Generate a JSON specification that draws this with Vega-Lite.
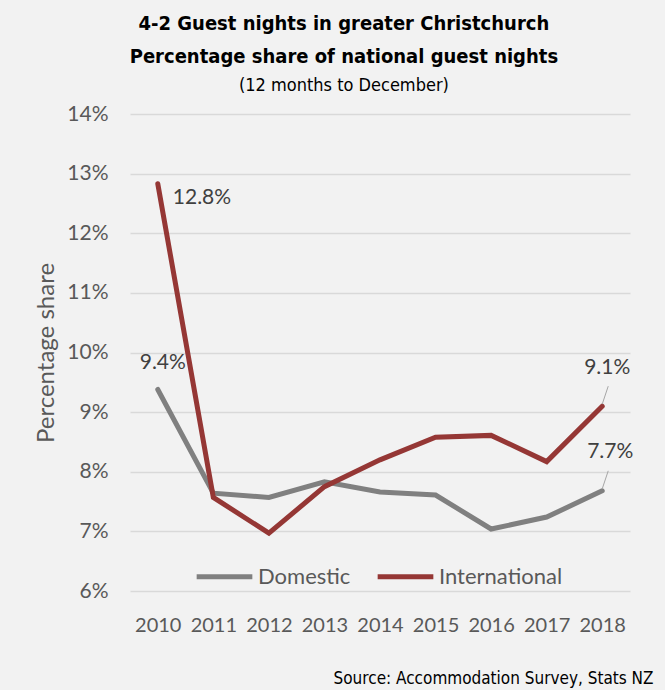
{
  "$schema": "https://vega.github.io/schema/vega-lite/v6.json",
  "width": 500,
  "height": 477,
  "autosize": {"type": "none"},
  "padding": {"left": 130, "top": 114, "right": 35, "bottom": 99},
  "background": "#f2f2f2",
  "title": {
    "text": ["4-2 Guest nights in greater Christchurch", "Percentage share of national guest nights"],
    "subtitle": "(12 months to December)",
    "anchor": "middle",
    "frame": "bounds",
    "font": "DejaVu Sans Condensed, sans-serif",
    "fontSize": 20,
    "fontWeight": "bold",
    "color": "#000000",
    "lineHeight": 33,
    "subtitleFont": "DejaVu Sans Condensed, sans-serif",
    "subtitleFontSize": 18,
    "subtitleColor": "#000000",
    "subtitlePadding": 10,
    "offset": 8
  },
  "config": {
    "view": {"stroke": null},
    "font": "Lato"
  },
  "data": {
    "values": [
      {"year": 2010, "series": "Domestic", "value": 9.38},
      {"year": 2011, "series": "Domestic", "value": 7.64},
      {"year": 2012, "series": "Domestic", "value": 7.57},
      {"year": 2013, "series": "Domestic", "value": 7.83},
      {"year": 2014, "series": "Domestic", "value": 7.66},
      {"year": 2015, "series": "Domestic", "value": 7.61},
      {"year": 2016, "series": "Domestic", "value": 7.04},
      {"year": 2017, "series": "Domestic", "value": 7.24},
      {"year": 2018, "series": "Domestic", "value": 7.68},
      {"year": 2010, "series": "International", "value": 12.83},
      {"year": 2011, "series": "International", "value": 7.57},
      {"year": 2012, "series": "International", "value": 6.97},
      {"year": 2013, "series": "International", "value": 7.75},
      {"year": 2014, "series": "International", "value": 8.2},
      {"year": 2015, "series": "International", "value": 8.58},
      {"year": 2016, "series": "International", "value": 8.61},
      {"year": 2017, "series": "International", "value": 8.17},
      {"year": 2018, "series": "International", "value": 9.1}
    ]
  },
  "layer": [
    {
      "mark": {"type": "line", "strokeWidth": 5, "strokeCap": "round", "strokeJoin": "miter"},
      "encoding": {
        "x": {
          "field": "year", "type": "quantitative",
          "scale": {"domain": [2009.5, 2018.5], "nice": false, "zero": false},
          "axis": {
            "values": [2010, 2011, 2012, 2013, 2014, 2015, 2016, 2017, 2018],
            "format": "d",
            "grid": false, "domain": false, "ticks": false,
            "labelFont": "Lato", "labelFontSize": 20, "labelColor": "#595959",
            "labelPadding": 24,
            "title": "Source: Accommodation Survey, Stats NZ",
            "titleFont": "DejaVu Sans Condensed, sans-serif",
            "titleFontSize": 17, "titleFontWeight": "normal", "titleColor": "#000000",
            "titleAnchor": "end", "titleAlign": "right",
            "titleX": 523, "titleY": 87, "titleBaseline": "middle"
          }
        },
        "y": {
          "field": "value", "type": "quantitative",
          "scale": {"domain": [6, 14], "nice": false, "zero": false},
          "axis": {
            "values": [6, 7, 8, 9, 10, 11, 12, 13, 14],
            "labelExpr": "datum.value + '%'",
            "grid": true, "gridColor": "#d9d9d9", "gridWidth": 1.5,
            "domain": false, "ticks": false,
            "labelFont": "Lato", "labelFontSize": 21, "labelColor": "#595959",
            "labelPadding": 22,
            "title": "Percentage share",
            "titleFont": "Lato", "titleFontSize": 24, "titleFontWeight": "normal",
            "titleColor": "#595959", "titlePadding": 8
          }
        },
        "color": {
          "field": "series", "type": "nominal",
          "scale": {"domain": ["Domestic", "International"], "range": ["#808080", "#953735"]},
          "legend": {
            "title": null,
            "orient": "none",
            "direction": "horizontal",
            "legendX": 64,
            "legendY": 432,
            "symbolType": "stroke",
            "symbolSize": 3100,
            "symbolStrokeWidth": 5,
            "labelFont": "Lato",
            "labelFontSize": 22,
            "labelColor": "#595959",
            "labelOffset": 3,
            "columnPadding": 16
          }
        }
      }
    },
    {
      "transform": [{"filter": "datum.year == 2018"}],
      "mark": {"type": "rule", "color": "#a6a6a6", "strokeWidth": 1, "x2Offset": 6, "y2Offset": -20, "yOffset": -2},
      "encoding": {
        "x": {"field": "year", "type": "quantitative"},
        "x2": {"field": "year"},
        "y": {"field": "value", "type": "quantitative"},
        "y2": {"field": "value"}
      }
    },
    {
      "transform": [{"filter": "datum.year == 2010 && datum.series == 'International'"}, {"calculate": "format(datum.value, '.1f') + '%'", "as": "lbl"}],
      "mark": {"type": "text", "align": "left", "baseline": "middle", "dx": 15, "dy": 14, "fontSize": 21, "color": "#404040", "font": "Lato"},
      "encoding": {
        "x": {"field": "year", "type": "quantitative"},
        "y": {"field": "value", "type": "quantitative"},
        "text": {"field": "lbl"}
      }
    },
    {
      "transform": [{"filter": "datum.year == 2010 && datum.series == 'Domestic'"}, {"calculate": "format(datum.value, '.1f') + '%'", "as": "lbl"}],
      "mark": {"type": "text", "align": "center", "baseline": "middle", "dx": 5, "dy": -26, "fontSize": 21, "color": "#404040", "font": "Lato"},
      "encoding": {
        "x": {"field": "year", "type": "quantitative"},
        "y": {"field": "value", "type": "quantitative"},
        "text": {"field": "lbl"}
      }
    },
    {
      "transform": [{"filter": "datum.year == 2018 && datum.series == 'International'"}, {"calculate": "format(datum.value, '.1f') + '%'", "as": "lbl"}],
      "mark": {"type": "text", "align": "center", "baseline": "middle", "dx": 5, "dy": -38, "fontSize": 21, "color": "#404040", "font": "Lato"},
      "encoding": {
        "x": {"field": "year", "type": "quantitative"},
        "y": {"field": "value", "type": "quantitative"},
        "text": {"field": "lbl"}
      }
    },
    {
      "transform": [{"filter": "datum.year == 2018 && datum.series == 'Domestic'"}, {"calculate": "format(datum.value, '.1f') + '%'", "as": "lbl"}],
      "mark": {"type": "text", "align": "center", "baseline": "middle", "dx": 8, "dy": -39, "fontSize": 21, "color": "#404040", "font": "Lato"},
      "encoding": {
        "x": {"field": "year", "type": "quantitative"},
        "y": {"field": "value", "type": "quantitative"},
        "text": {"field": "lbl"}
      }
    }
  ]
}
